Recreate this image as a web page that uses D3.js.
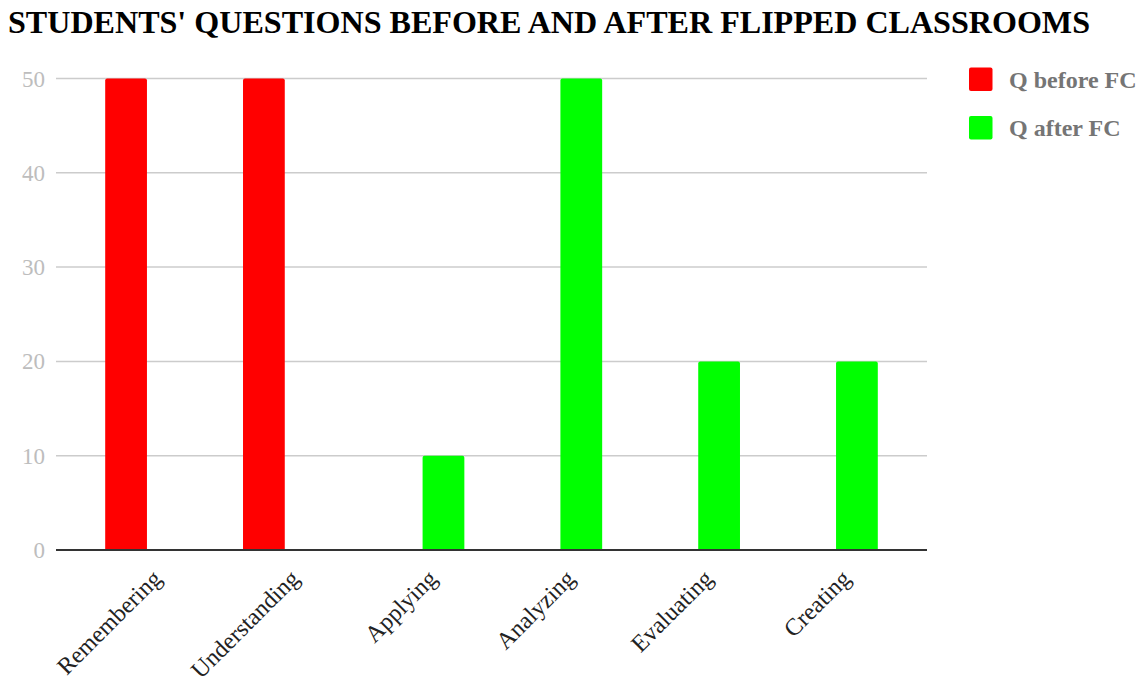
<!DOCTYPE html>
<html>
<head>
<meta charset="utf-8">
<script src="https://cdn.jsdelivr.net/npm/d3@7"></script>
<style>
  body { margin: 0; background: #fff; }
  svg { font-family: "Liberation Serif", "Times New Roman", serif; }
</style>
</head>
<body>
<div id="chart"></div>
<script>
var categories = ["Remembering", "Understanding", "Applying", "Analyzing", "Evaluating", "Creating"];
var seriesNames = ["Q before FC", "Q after FC"];
var before = [50, 50, 0, 0, 0, 0];
var after = [0, 0, 10, 50, 20, 20];
var yTicks = [0, 10, 20, 30, 40, 50];
var colors = ["#ff0000", "#00ff00"];

var width = 1145,
    height = 676,
    margin = {top: 78.5, right: 218, bottom: 126, left: 56};

var data = categories.map((c, i) => ({name: c, values: [before[i], after[i]]}));

var svg = d3.select("#chart")
    .append("svg")
    .attr("width", width)
    .attr("height", height);

var x0 = d3.scaleBand()
    .domain(categories)
    .range([margin.left, width - margin.right])
    .paddingInner(0)
    .paddingOuter(0.16);

var x1 = d3.scaleBand()
    .domain(seriesNames)
    .range([0, x0.bandwidth()])
    .paddingInner(0)
    .paddingOuter(0.65);

var y = d3.scaleLinear()
    .domain([0, 50])
    .range([height - margin.bottom, margin.top]);

// gridlines
svg.append("g")
    .selectAll("line")
    .data(yTicks.filter(d => d > 0))
    .join("line")
    .attr("x1", margin.left)
    .attr("x2", width - margin.right)
    .attr("y1", d => y(d))
    .attr("y2", d => y(d))
    .attr("stroke", "#cccccc")
    .attr("stroke-width", 1.5);

// y labels
svg.append("g")
    .selectAll("text")
    .data(yTicks)
    .join("text")
    .attr("x", 45)
    .attr("y", d => y(d))
    .attr("dy", "0.35em")
    .style("text-anchor", "end")
    .style("font-size", "23px")
    .attr("fill", "#bdbdbd")
    .text(d => d);

// bars
var groups = svg.append("g")
    .selectAll("g")
    .data(data)
    .join("g")
    .attr("transform", d => `translate(${x0(d.name)}, 0)`);

groups.selectAll("path")
    .data(d => d.values.map((v, i) => ({key: seriesNames[i], value: v, i: i})).filter(e => e.value > 0))
    .join("path")
    .attr("fill", d => colors[d.i])
    .attr("d", d => {
        let bx = x1(d.key), bw = x1.bandwidth(), by = y(d.value), b = y(0), r = 2;
        return `M${bx},${b}V${by + r}Q${bx},${by} ${bx + r},${by}H${bx + bw - r}Q${bx + bw},${by} ${bx + bw},${by + r}V${b}Z`;
    });

// baseline
svg.append("line")
    .attr("x1", margin.left)
    .attr("x2", width - margin.right)
    .attr("y1", y(0))
    .attr("y2", y(0))
    .attr("stroke", "#333333")
    .attr("stroke-width", 2);

// x labels
svg.append("g")
    .selectAll("text")
    .data(categories)
    .join("text")
    .attr("transform", d => `translate(${x0(d) + x0.bandwidth() / 2 + 10}, ${y(0) + 24}) rotate(-45)`)
    .style("text-anchor", "end")
    .style("font-size", "24px")
    .attr("dy", "0.35em")
    .attr("fill", "#222")
    .text(d => d);

// title
svg.append("text")
    .attr("x", 8)
    .attr("y", 32.5)
    .style("font-size", "31px")
    .style("font-weight", "bold")
    .attr("fill", "#000")
    .attr("textLength", 1082)
    .attr("lengthAdjust", "spacingAndGlyphs")
    .text("STUDENTS' QUESTIONS BEFORE AND AFTER FLIPPED CLASSROOMS");

// legend
var legend = svg.append("g")
    .selectAll("g")
    .data(seriesNames)
    .join("g")
    .attr("transform", (d, i) => `translate(969, ${67.5 + i * 48.5})`);

legend.append("rect")
    .attr("width", 23.5)
    .attr("height", 23.5)
    .attr("rx", 2)
    .attr("fill", (d, i) => colors[i]);

legend.append("text")
    .attr("x", 40)
    .attr("y", 20)
    .style("font-size", "24px")
    .style("font-weight", "bold")
    .attr("fill", "#757575")
    .text(d => d);
</script>
</body>
</html>
